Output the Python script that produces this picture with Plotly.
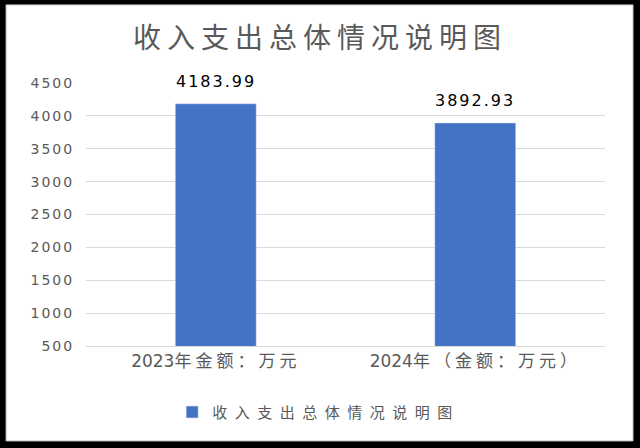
import re
import plotly.graph_objects as go

categories = ["2023年金额：万元", "2024年（金额：万元）"]
values = [4183.99, 3892.93]
value_labels = ["4183.99", "3892.93"]
series_name = "收入支出总体情况说明图"
chart_title = "收入支出总体情况说明图"
y_ticks = [500, 1000, 1500, 2000, 2500, 3000, 3500, 4000, 4500]

FONT = "DejaVu Sans, Noto Sans CJK SC, sans-serif"
CJK = "Noto Sans CJK SC"
GREY = "#595959"


def spaced_label(s):
    # year digits stay tight, the Chinese part is spread out like the source
    m = re.match(r"(\d*)(.*)", s)
    return m.group(1) + "<span style='letter-spacing:4px'>" + m.group(2) + "</span>"


fig = go.Figure(go.Bar(
    x=categories,
    y=values,
    name=series_name,
    marker=dict(color="#4472c4"),
    showlegend=True,
))

# value labels above the bars
for cat, val, lab in zip(categories, values, value_labels):
    fig.add_annotation(
        x=cat, y=val, text=lab, showarrow=False,
        yanchor="bottom", yshift=11,
        font=dict(family=FONT, size=16, color="#000000"),
    )

# white chart panel on a black page
fig.add_shape(
    type="rect", xref="paper", yref="paper",
    x0=-0.154, x1=1.054, y0=-0.361, y1=1.297,
    fillcolor="white", line=dict(color="#bfbfbf", width=1), layer="below",
)

fig.update_layout(
    width=640, height=448,
    paper_bgcolor="black",
    plot_bgcolor="white",
    margin=dict(l=86, r=35, t=83, b=102),
    bargap=0.688,
    title=dict(
        text=chart_title, x=0.5, xref="container", xanchor="center",
        y=0.915, yanchor="middle",
        font=dict(family=CJK, size=28, color=GREY),
    ),
    font=dict(family=FONT, color=GREY),
    legend=dict(
        orientation="h", x=0.166, xanchor="left", y=-0.252, yanchor="middle",
        font=dict(family=CJK, size=15, color=GREY),
        bgcolor="rgba(0,0,0,0)",
    ),
    xaxis=dict(
        showgrid=False, showline=True, linecolor="#d9d9d9", linewidth=1,
        tickvals=categories, ticktext=[spaced_label(c) for c in categories],
        tickfont=dict(family=FONT, size=17, color=GREY), ticks="",
    ),
    yaxis=dict(
        range=[500, 4500], tickvals=y_ticks, showgrid=True, gridcolor="#d9d9d9",
        zeroline=False, tickfont=dict(family=FONT, size=14, color=GREY),
        ticks="outside", ticklen=8, tickcolor="white",
    ),
)

# page without body margin, plus the wide letter spacing of the source chart
post = """
document.body.style.margin = '0';
document.body.style.background = 'black';
var sp = [['.gtitle', '6px'], ['.ytick text', '2px'],
          ['.annotation-text', '2px'], ['.legendtext', '7.5px']];
sp.forEach(function (s) {
  document.querySelectorAll(s[0]).forEach(function (el) { el.style.letterSpacing = s[1]; });
});
document.querySelectorAll('.legend .scrollbox').forEach(function (el) { el.removeAttribute('clip-path'); });
"""

fig.write_html("out.html", post_script=post, config={"displayModeBar": False})
